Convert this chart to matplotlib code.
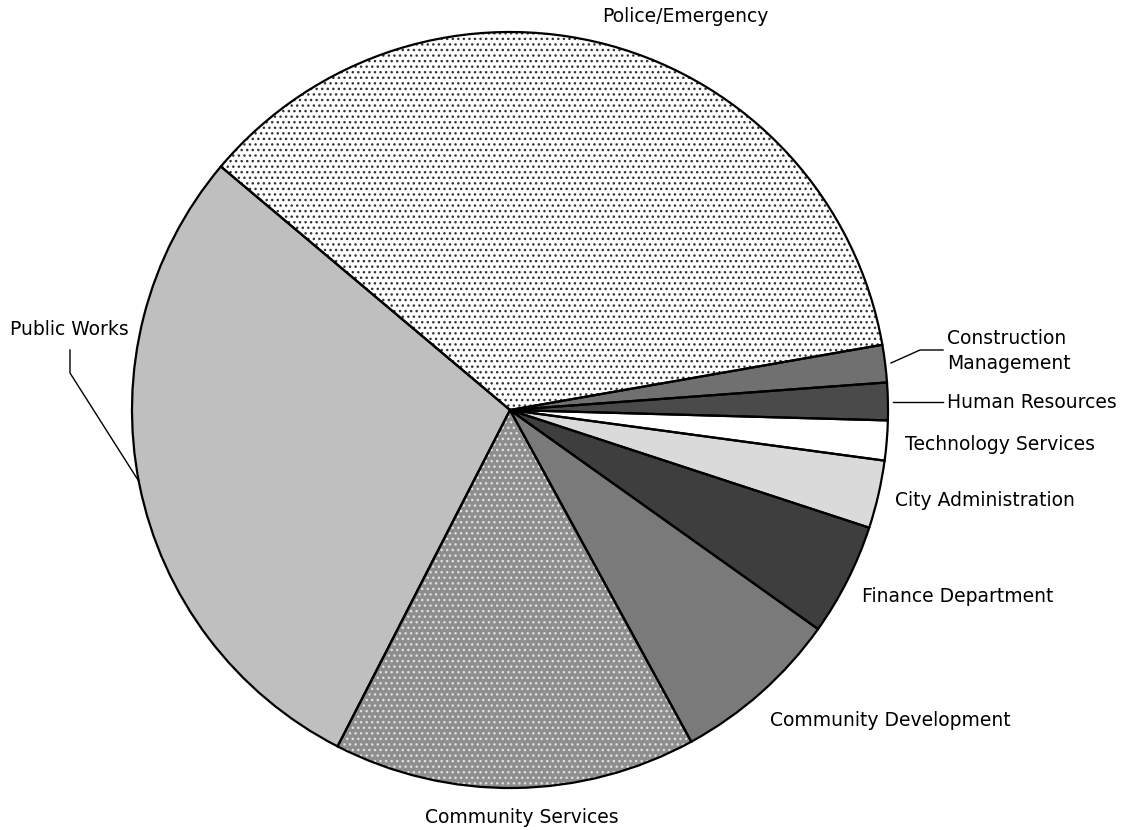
import matplotlib
matplotlib.use("Agg")
import matplotlib.pyplot as plt

# slice data (percent of budget)
departments = ["Police/Emergency", "Construction\nManagement", "Human Resources",
               "Technology Services", "City Administration", "Finance Department",
               "Community Development", "Community Services", "Public Works"]
shares = [36.1, 1.6, 1.6, 1.7, 2.9, 4.8, 7.2, 15.5, 28.6]
fills = ["#ffffff", "#707070", "#4a4a4a", "#ffffff", "#dadada", "#3e3e3e",
         "#7a7a7a", "#8e8e8e", "#bfbfbf"]
dot_hatch = ["...", None, None, None, None, None, None, "...", None]
dot_color = ["#333333", None, None, None, None, None, None, "#e0e0e0", None]

W, H = 1127, 830
CX, CY, R = 510, 420, 378   # y measured from bottom

plt.rcParams["hatch.linewidth"] = 1.0

fig = plt.figure(figsize=(W / 100, H / 100), dpi=100)
ax = fig.add_axes([0, 0, 1, 1])

# base fills
ax.pie(shares, colors=fills, startangle=139.9, counterclock=False,
       center=(CX, CY), radius=R, frame=True,
       wedgeprops=dict(linewidth=0))

# dot patterns
wedges, _ = ax.pie(shares, colors=["none"] * len(shares), startangle=139.9,
                   counterclock=False, center=(CX, CY), radius=R, frame=True,
                   wedgeprops=dict(linewidth=0))
for w, h, c in zip(wedges, dot_hatch, dot_color):
    if h is None:
        w.set_visible(False)
    else:
        w.set_hatch(h)
        w.set_edgecolor(c)
        w.set_facecolor("none")

# outlines
ax.pie(shares, colors=["none"] * len(shares), startangle=139.9,
       counterclock=False, center=(CX, CY), radius=R, frame=True,
       wedgeprops=dict(linewidth=1.6, edgecolor="black"))
ax.set_xlim(0, W)
ax.set_ylim(0, H)
ax.axis("off")

fs = 13.5


def yy(y_img):
    return H - y_img


# labels (image pixel positions)
ax.text(685, yy(17), departments[0], ha="center", va="center", fontsize=fs)
ax.text(947, yy(351), departments[1], ha="left", va="center", fontsize=fs,
        linespacing=1.35)
ax.text(947, yy(403), departments[2], ha="left", va="center", fontsize=fs)
ax.text(905, yy(445), departments[3], ha="left", va="center", fontsize=fs)
ax.text(895, yy(501), departments[4], ha="left", va="center", fontsize=fs)
ax.text(862, yy(596), departments[5], ha="left", va="center", fontsize=fs)
ax.text(770, yy(720), departments[6], ha="left", va="center", fontsize=fs)
ax.text(522, yy(817), departments[7], ha="center", va="center", fontsize=fs)
ax.text(10, yy(330), departments[8], ha="left", va="center", fontsize=fs)

# leader lines
ax.plot([891, 920, 943], [yy(363), yy(350), yy(350)], color="black", lw=1)
ax.plot([893, 943], [yy(402), yy(402)], color="black", lw=1)
ax.plot([70, 70, 138], [yy(350), yy(373), yy(480)], color="black", lw=1)

fig.savefig("out.png", dpi=100)
